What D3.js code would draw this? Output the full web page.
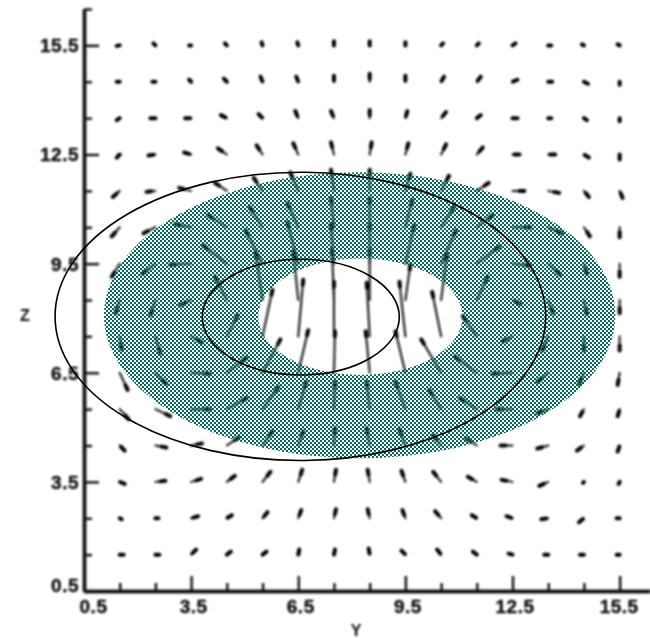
<!DOCTYPE html>
<html>
<head>
<meta charset="utf-8">
<script src="https://d3js.org/d3.v7.min.js"></script>
<style>
html, body { margin: 0; padding: 0; background: #fff; }
svg { display: block; }
.tick text { font-family: "Liberation Sans", sans-serif; font-weight: 700; font-size: 19px; letter-spacing: 0.5px; fill: #111; stroke: #111; stroke-width: 0.4px; }
.axisName { font-family: "Liberation Sans", sans-serif; font-weight: 700; font-size: 16px; fill: #111; }
</style>
</head>
<body>
<div id="figure"></div>
<script>
var gridY = [1.5,2.5,3.5,4.5,5.5,6.5,7.5,8.5,9.5,10.5,11.5,12.5,13.5,14.5,15.5];
var gridZ = [15.5,14.5,13.5,12.5,11.5,10.5,9.5,8.5,7.5,6.5,5.5,4.5,3.5,2.5,1.5];

// horizontal component, one row per gridZ value
var velU = [
  [-3,-2,-2,-2,-1,-1,0,0,0,2,2,3,3,-2,-2],
  [-3,-3,-2,-3,-2,-2,0,0,0,3,4,5,4,4,0],
  [-3,-5,-6,-6,-4,-3,-3,0,2,5,4,5,3,3,0],
  [-3,-7,-7,-9,-6,-5,-3,2,3,5,6,7,7,5,0],
  [-7,-9,-12,-12,-9,-8,-3,0,5,8,12,12,11,5,3],
  [-8,-12,-16,-19,-13,-11,-3,0,7,13,16,18,14,6,0],
  [-8,-13,-21,-24,-17,-11,-3,0,9,15,23,18,12,3,0],
  [-4,-5,-11,-12,-7,-5,-2,0,5,6,11,8,5,3,0],
  [2,5,11,11,10,5,0,-3,-6,-9,-14,-10,-6,0,0],
  [8,11,19,20,18,10,1,-4,-10,-20,-22,-20,-11,-5,-2],
  [9,15,19,20,16,8,1,-3,-10,-12,-17,-16,-11,-4,-2],
  [5,11,11,12,10,5,1,-3,-6,-8,-11,-12,-11,-7,-2],
  [5,10,10,8,8,4,2,-2,-4,-8,-9,-11,-9,-1,-1],
  [2,3,7,5,5,3,2,-2,-3,-6,-5,-6,-7,-5,-3],
  [4,4,5,4,4,1,1,-1,-4,-4,-4,-4,-4,-4,-3]
];

// vertical component, positive is up
var velV = [
  [-0.5,2,0,2,3,3,4,4,3,2,2,2,0,1,1],
  [0,0,2,3,5,5,6,8,6,5,5,2,0,-2,-3],
  [-2,0,0,3,4,7,7,8,7,6,3,0,0,-2,-3],
  [-3,-1,2,6,9,11,12,12,11,10,7,0,0,-3,-5],
  [-6,-1,3,8,13,18,21,21,17,15,8,0,-2,-6,-7],
  [-9,-6,3,12,20,24,29,29,27,20,12,0,-6,-9,-10],
  [-13,-10,-1,18,33,41,39,39,38,33,17,-2,-11,-10,-13],
  [-13,-15,-5,23,47,48,50,50,35,45,23,-4,-13,-14,-13],
  [-13,-17,-6,21,46,56,54,53,54,44,20,-5,-14,-14,-14],
  [-17,-11,-1,15,33,42,41,41,41,33,16,-1,-9,-11,-12],
  [-10,-7,0,11,22,27,27,27,27,19,11,0,-4,-7,-7],
  [-5,-2,2,8,14,14,17,17,16,10,7,0,-3,-5,-6],
  [-2,1,3,6,10,12,12,12,11,10,5,2,-4,-1,-2],
  [-1,0,2,3,6,8,9,9,8,7,3,2,-1,-4,0],
  [0,0,5,3,3,5,5,6,4,5,3,1,0,0,0]
];

var majorTicks = [0.5,3.5,6.5,9.5,12.5,15.5];
var minorTicks = [1.5,2.5,4.5,5.5,7.5,8.5,10.5,11.5,13.5,14.5];

// centre Y, centre Z, half width, half height
var ringOuter = [8.22, 8.08, 7.16, 3.93];
var ringInner = [8.24, 8.04, 2.86, 1.60];
var loopOuter = [6.56, 8.05, 6.87, 3.96];
var loopInner = [6.57, 8.03, 2.76, 1.59];

var arrowScale = 1 / 36;

var svg = d3.select("#figure")
    .append("svg")
    .attr("width", 650)
    .attr("height", 638);

var xScale = d3.scaleLinear().domain([0.5, 16.35]).range([84, 650]);
var yScale = d3.scaleLinear().domain([0.5, 16.5]).range([591, 9]);

var defs = svg.append("defs");

// the scan is soft, so ink goes through a small blur
defs.append("filter").attr("id", "soft")
    .attr("filterUnits", "userSpaceOnUse")
    .attr("x", 0).attr("y", 0).attr("width", 650).attr("height", 638)
    .append("feGaussianBlur").attr("stdDeviation", 0.8);

var checker = defs.append("pattern")
    .attr("id", "checker")
    .attr("patternUnits", "userSpaceOnUse")
    .attr("width", 4)
    .attr("height", 4);
checker.append("rect").attr("width", 2).attr("height", 2).attr("fill", "#00695c");
checker.append("rect").attr("x", 2).attr("y", 2).attr("width", 2).attr("height", 2).attr("fill", "#00695c");

var ink = svg.append("g").attr("filter", "url(#soft)");

// vectors
var arrows = [];
gridZ.forEach(function(z, r) {
    gridY.forEach(function(y, c) {
        arrows.push({y: y, z: z, u: velU[r][c], v: velV[r][c]});
    });
});

var quiver = ink.append("g").attr("id", "quiver");

quiver.selectAll("line.shaft")
    .data(arrows)
    .enter().append("line")
    .attr("class", "shaft")
    .attr("x1", function(d) { return xScale(d.y); })
    .attr("y1", function(d) { return yScale(d.z); })
    .attr("x2", function(d) { return xScale(d.y + d.u * arrowScale); })
    .attr("y2", function(d) { return yScale(d.z + d.v * arrowScale); })
    .attr("stroke", "#111")
    .attr("stroke-width", 2)
    .attr("stroke-linecap", "round");

// head is a short fat piece at the tip
function headStart(d) {
    var len = Math.sqrt(d.u * d.u + d.v * d.v) || 1;
    return Math.max(0, 1 - 5 / len);
}
quiver.selectAll("line.head")
    .data(arrows)
    .enter().append("line")
    .attr("class", "head")
    .attr("x1", function(d) { return xScale(d.y + headStart(d) * d.u * arrowScale); })
    .attr("y1", function(d) { return yScale(d.z + headStart(d) * d.v * arrowScale); })
    .attr("x2", function(d) { return xScale(d.y + d.u * arrowScale); })
    .attr("y2", function(d) { return yScale(d.z + d.v * arrowScale); })
    .attr("stroke", "#000")
    .attr("stroke-width", 4)
    .attr("stroke-linecap", "round");

// axes
var leftMinor = d3.axisLeft(yScale).tickValues(minorTicks.concat([16.5])).tickSize(-8).tickSizeOuter(0).tickFormat("");
var leftMajor = d3.axisLeft(yScale).tickValues(majorTicks).tickSize(-15).tickSizeOuter(0).tickPadding(5).tickFormat(d3.format(".1f"));
var bottomMinor = d3.axisBottom(xScale).tickValues(minorTicks).tickSize(-8).tickSizeOuter(0).tickFormat("");
var bottomMajor = d3.axisBottom(xScale).tickValues(majorTicks).tickSize(-15).tickSizeOuter(0).tickPadding(9).tickFormat(d3.format(".1f"));

var gLeftMinor = ink.append("g").attr("transform", "translate(84,0)").call(leftMinor);
var gLeftMajor = ink.append("g").attr("transform", "translate(84,0)").call(leftMajor);
var gBottomMinor = ink.append("g").attr("transform", "translate(0,591)").call(bottomMinor);
var gBottomMajor = ink.append("g").attr("transform", "translate(0,591)").call(bottomMajor);

ink.selectAll(".domain").attr("stroke", "#111").attr("stroke-width", 3.4);
ink.selectAll(".tick line").attr("stroke", "#111").attr("stroke-width", 2.4);

gLeftMajor.selectAll("text")
    .attr("dy", function(d) { return d === 0.5 ? "0.02em" : "0.34em"; });
gBottomMajor.selectAll("text")
    .attr("dx", function(d) { return d === 0.5 ? 9 : (d === 15.5 ? -1 : 2); });

ink.append("text").attr("class", "axisName")
    .attr("x", 25).attr("y", 321).attr("text-anchor", "middle").text("Z");
ink.append("text").attr("class", "axisName")
    .attr("x", 356).attr("y", 636).attr("text-anchor", "middle").text("Y");

// shaded ring, white checks stay see-through
function ellipsePath(e) {
    var cx = xScale(e[0]), cy = yScale(e[1]);
    var rx = xScale(e[0] + e[2]) - cx, ry = cy - yScale(e[1] + e[3]);
    return "M" + (cx - rx) + "," + cy +
        "A" + rx + "," + ry + " 0 1,0 " + (cx + rx) + "," + cy +
        "A" + rx + "," + ry + " 0 1,0 " + (cx - rx) + "," + cy + "Z";
}

svg.append("path")
    .attr("id", "ring")
    .attr("d", ellipsePath(ringOuter) + ellipsePath(ringInner))
    .attr("fill", "url(#checker)")
    .attr("fill-rule", "evenodd");

svg.selectAll("path.loop")
    .data([loopOuter, loopInner])
    .enter().append("path")
    .attr("class", "loop")
    .attr("d", ellipsePath)
    .attr("fill", "none")
    .attr("stroke", "#000")
    .attr("stroke-width", 1.6);
</script>
</body>
</html>
